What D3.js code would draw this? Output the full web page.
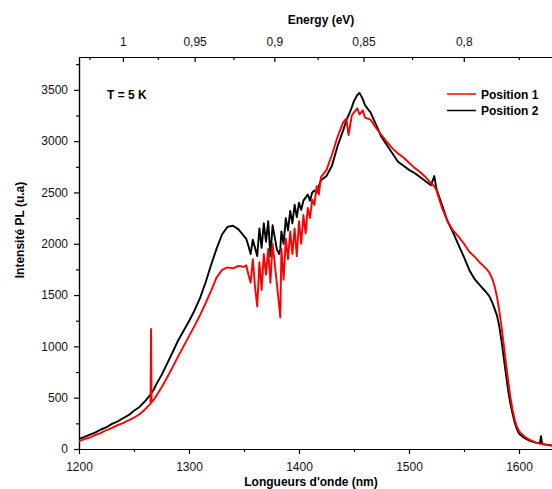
<!DOCTYPE html>
<html>
<head>
<meta charset="utf-8">
<script src="https://cdn.jsdelivr.net/npm/d3@7"></script>
<style>
  body { margin: 0; background: #fff; }
  svg { display: block; font-family: "Liberation Sans", Arial, sans-serif; }
</style>
</head>
<body>
<div id="chart"></div>
<script>
// wavelength grid (nm), shared by both spectra
const wavelengths = [
  1200, 1205, 1210, 1215, 1220, 1225, 1230, 1235, 1240, 1245, 1250, 1255, 1260, 1263, 1265, 1265.5, 1266, 1268,
  1270, 1275, 1280, 1285, 1290, 1295, 1300, 1305, 1310, 1315, 1320, 1325, 1330, 1335, 1340, 1345, 1350,
  1352, 1354, 1356, 1358, 1360, 1362, 1364, 1366, 1368, 1370, 1372, 1374, 1376, 1378, 1380, 1382, 1383,
  1384, 1386, 1388, 1390, 1392, 1394, 1396, 1398, 1400, 1402, 1404, 1406, 1408, 1410, 1412, 1414, 1416, 1418, 1420,
  1425, 1430, 1435, 1440, 1443, 1445, 1448, 1450, 1453, 1455, 1458, 1460, 1465, 1470, 1475, 1480, 1485, 1490,
  1495, 1500, 1505, 1510, 1515, 1520, 1523, 1525, 1530, 1535, 1540, 1545, 1550, 1555, 1560, 1565, 1570, 1573,
  1576, 1578, 1580, 1582, 1584, 1586, 1588, 1590, 1592, 1594, 1596, 1598, 1600, 1605, 1610, 1615, 1619, 1620, 1621,
  1625, 1630
];

// Position 1 (red)
const position1 = [
  78, 96, 112, 138, 158, 185, 205, 232, 252, 280, 305, 338, 385, 420, 440, 1170, 455, 480,
  515, 600, 695, 795, 900, 1000, 1100, 1200, 1305, 1420, 1540, 1670, 1745, 1770, 1760, 1785, 1775,
  1790, 1700, 1620, 1850, 1580, 1390, 1820, 1550, 1900, 1700, 1950, 1620, 2000, 1800, 1600, 1390, 1280,
  1950, 1650, 2050, 1850, 2120, 1900, 2150, 1880, 2220, 2000, 2280, 2100, 2350, 2250, 2430, 2380, 2560, 2480, 2650,
  2720, 2870, 3040, 3180, 3220, 3060, 3250, 3280, 3320, 3260, 3300, 3230, 3210, 3130, 3060, 2990, 2930, 2880,
  2840, 2790, 2740, 2700, 2650, 2590, 2560, 2520, 2350, 2220, 2130, 2070, 2000, 1920, 1870, 1810, 1760, 1720,
  1650, 1580, 1480, 1350, 1200, 1030, 850, 680, 520, 390, 290, 220, 175, 120, 88, 65, 52, 50, 48,
  40, 32
];

// Position 2 (black)
const position2 = [
  98, 118, 140, 162, 190, 212, 245, 268, 300, 330, 372, 410, 465, 505, 530, 540, 548, 580,
  625, 720, 830, 940, 1055, 1150, 1245, 1350, 1470, 1620, 1790, 1950, 2090, 2165, 2175, 2140, 2075,
  2050, 1980, 1900, 2040, 1960, 1880, 2150, 1960, 2200, 2020, 2220, 1880, 2180, 2060, 1940, 1900, 1950,
  2120, 2000, 2250, 2130, 2320, 2200, 2380, 2260, 2400, 2330, 2420, 2450, 2480, 2420, 2500, 2520, 2500, 2560, 2620,
  2660, 2760, 2950, 3100, 3200, 3250, 3330, 3390, 3450, 3470, 3410, 3350, 3280, 3160, 3040, 2960, 2880, 2800,
  2760, 2720, 2690, 2650, 2610, 2570, 2660, 2530, 2380, 2220, 2110, 1990, 1870, 1740, 1650, 1590, 1530, 1490,
  1420, 1360, 1300, 1200, 1060, 900, 740, 580, 450, 350, 260, 195, 150, 105, 80, 62, 55, 125, 50,
  42, 35
];

const seriesNames = ["Position 1", "Position 2"];
const seriesColors = ["#ff0000", "#000000"];

const xTicks = [1200, 1300, 1400, 1500, 1600];
const xMinor = [1250, 1350, 1450, 1550];
const yTicks = [0, 500, 1000, 1500, 2000, 2500, 3000, 3500];
const yMinor = [250, 750, 1250, 1750, 2250, 2750, 3250, 3750];
const energyTicks = [1, 0.95, 0.9, 0.85, 0.8];
const energyMinor = [1.025, 0.975, 0.925, 0.875, 0.825, 0.775];

const width = 552,
  height = 489,
  margin = ({ top: 57, right: 0, bottom: 40, left: 79 });

const x = d3.scaleLinear()
  .domain([1200, 1630])
  .range([margin.left, width - margin.right]);

const y = d3.scaleLinear()
  .domain([0, 3820])
  .range([height - margin.bottom, margin.top]);

// E (eV) -> wavelength (nm)
const toNm = e => 1239.84 / e;

const svg = d3.select("#chart")
  .append("svg")
  .attr("width", width)
  .attr("height", height)
  .attr("viewBox", [0, 0, width, height]);

svg.append("clipPath")
  .attr("id", "plot")
  .append("rect")
  .attr("x", margin.left)
  .attr("y", margin.top)
  .attr("width", width - margin.left - margin.right)
  .attr("height", height - margin.top - margin.bottom);

// bottom axis
svg.append("g")
  .attr("transform", `translate(0,${height - margin.bottom})`)
  .call(d3.axisBottom(x).tickValues(xTicks).tickFormat(d3.format("d")).tickSize(5).tickSizeOuter(0).tickPadding(8));

svg.append("g")
  .attr("transform", `translate(0,${height - margin.bottom})`)
  .call(d3.axisBottom(x).tickValues(xMinor).tickFormat("").tickSize(3).tickSizeOuter(0));

// left axis
svg.append("g")
  .attr("transform", `translate(${margin.left},0)`)
  .call(d3.axisLeft(y).tickValues(yTicks).tickFormat(d3.format("d")).tickSize(5).tickSizeOuter(0).tickPadding(6));

svg.append("g")
  .attr("transform", `translate(${margin.left},0)`)
  .call(d3.axisLeft(y).tickValues(yMinor).tickFormat("").tickSize(3).tickSizeOuter(0));

// top axis, energy
svg.append("g")
  .attr("transform", `translate(0,${margin.top})`)
  .call(d3.axisTop(x).tickValues(energyTicks.map(toNm))
    .tickFormat((d, i) => String(energyTicks[i]).replace(".", ","))
    .tickSizeInner(-5).tickSizeOuter(0).tickPadding(11));

svg.append("g")
  .attr("transform", `translate(0,${margin.top})`)
  .call(d3.axisTop(x).tickValues(energyMinor.map(toNm)).tickFormat("").tickSizeInner(-3).tickSizeOuter(0));

svg.selectAll(".tick text")
  .attr("font-size", 12)
  .attr("font-family", "Liberation Sans, Arial, sans-serif")
  .attr("fill", "#111");

svg.selectAll(".domain, .tick line")
  .attr("stroke", "#000")
  .attr("stroke-width", 1.2);

// spectra
const line = d3.line()
  .x(d => x(d[0]))
  .y(d => y(d[1]));

const spectra = [position1, position2].map(vals => wavelengths.map((w, i) => [w, vals[i]]));

[1, 0].forEach(k => {
  svg.append("path")
    .datum(spectra[k])
    .attr("clip-path", "url(#plot)")
    .attr("fill", "none")
    .attr("stroke", seriesColors[k])
    .attr("stroke-width", 1.9)
    .attr("stroke-linejoin", "round")
    .attr("d", line);
});

// titles
svg.append("text")
  .attr("x", 311)
  .attr("y", 486)
  .attr("text-anchor", "middle")
  .attr("font-size", 12)
  .attr("font-weight", "bold")
  .text("Longueurs d'onde (nm)");

svg.append("text")
  .attr("x", 321)
  .attr("y", 24)
  .attr("text-anchor", "middle")
  .attr("font-size", 12)
  .attr("font-weight", "bold")
  .text("Energy (eV)");

svg.append("text")
  .attr("transform", "translate(24,230) rotate(-90)")
  .attr("text-anchor", "middle")
  .attr("font-size", 12)
  .attr("font-weight", "bold")
  .text("Intensité PL (u.a)");

svg.append("text")
  .attr("x", 107)
  .attr("y", 99)
  .attr("font-size", 12)
  .attr("font-weight", "bold")
  .text("T = 5 K");

// legend
const legend = svg.append("g")
  .selectAll("g")
  .data(seriesNames)
  .join("g")
  .attr("transform", (d, i) => `translate(447,${94 + i * 16.5})`);

legend.append("line")
  .attr("x1", 0)
  .attr("x2", 29)
  .attr("stroke", (d, i) => seriesColors[i])
  .attr("stroke-width", 1.5);

legend.append("text")
  .attr("x", 34)
  .attr("y", 4.5)
  .attr("font-size", 12)
  .attr("font-weight", "bold")
  .text(d => d);
</script>
</body>
</html>
